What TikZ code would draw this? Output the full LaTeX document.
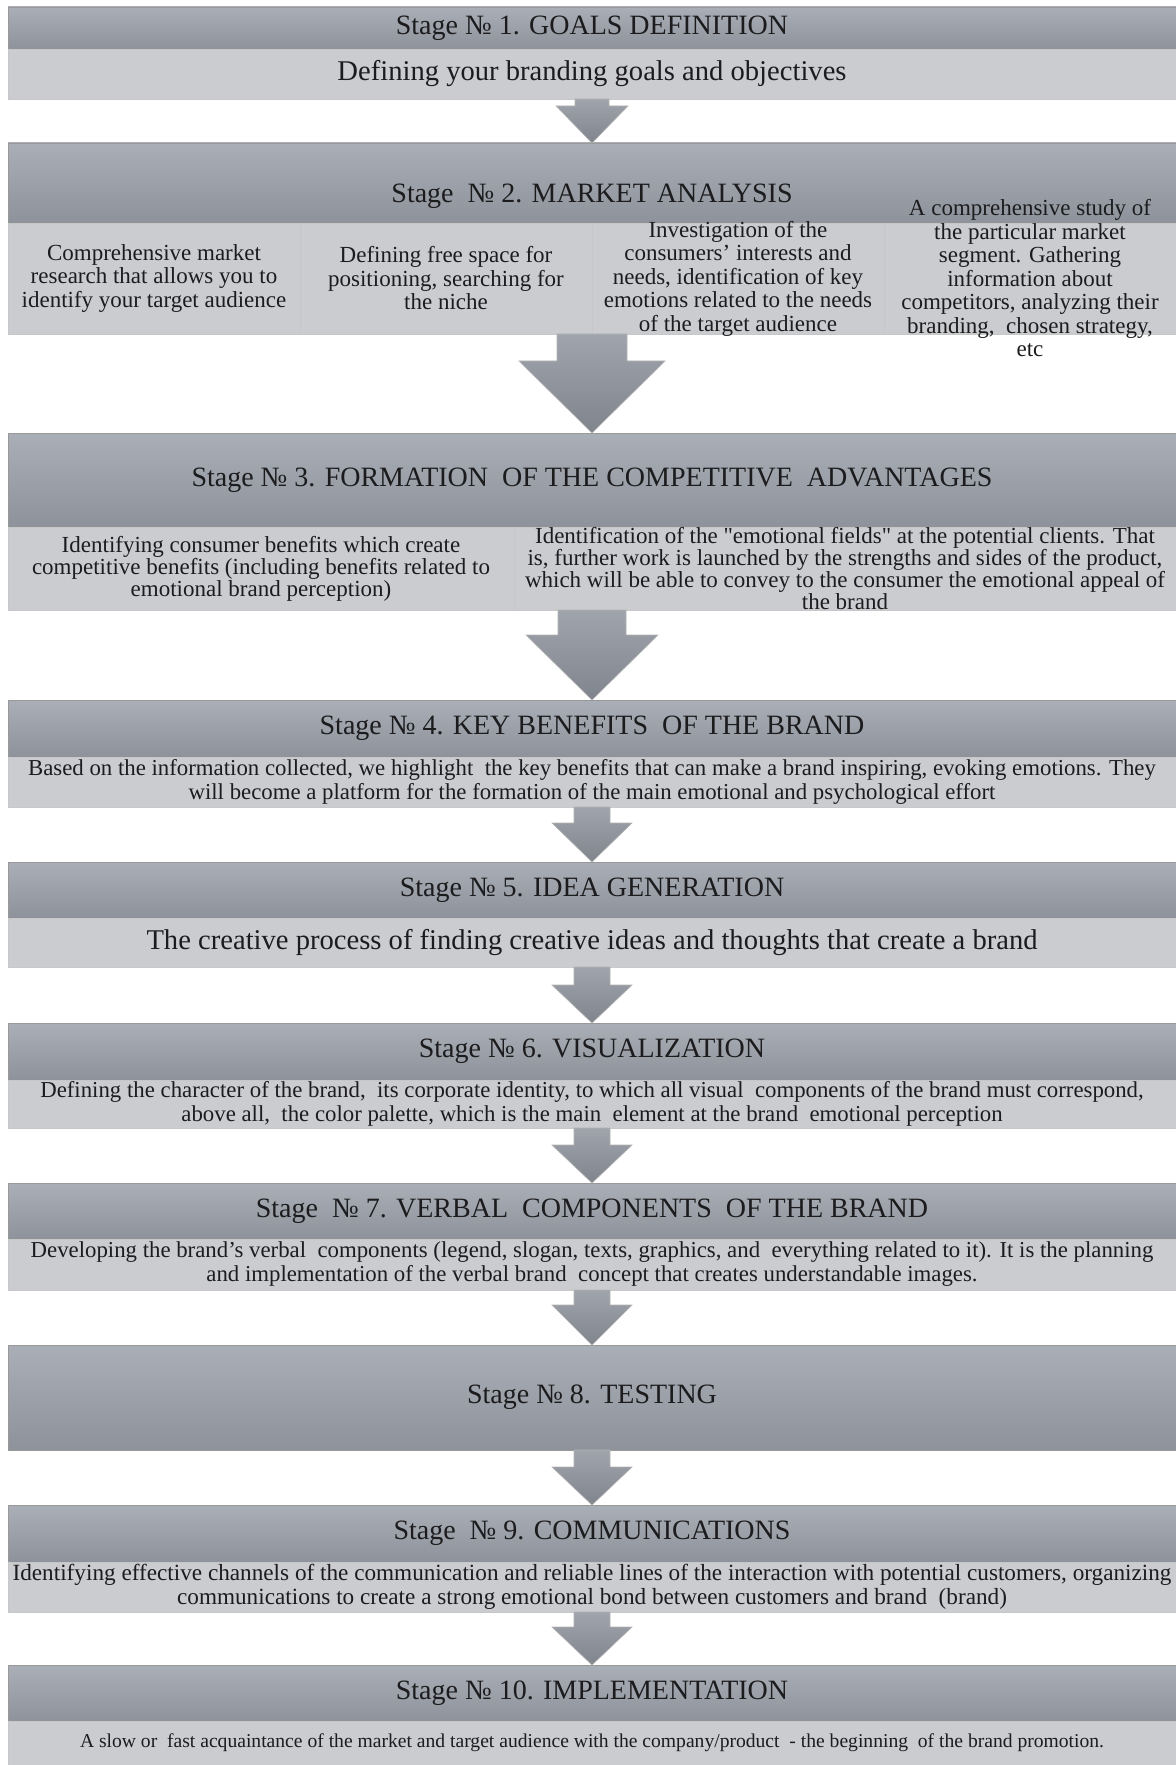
\documentclass[tikz,border=0pt]{standalone}
\usepackage{fontspec}
\setmainfont{Liberation Serif}
\usepackage{xcolor}
\usetikzlibrary{positioning,calc}

\definecolor{headtop}{RGB}{170,174,182}
\definecolor{headbot}{RGB}{142,147,155}
\definecolor{bodyfill}{RGB}{203,204,208}
\definecolor{arrowtop}{RGB}{160,165,173}
\definecolor{arrowbot}{RGB}{128,133,141}
\definecolor{ink}{RGB}{28,28,30}

\begin{document}
\begin{tikzpicture}[x=0.5pt,y=-0.5pt]
	\newcommand\wid{584pt}
	\newcommand\bigfont{\fontsize{14}{16}\selectfont}
	\newcommand\widefont{\fontsize{14.3}{16}\selectfont}
	\newcommand\cellfont{\fontsize{11.5}{11.75}\selectfont}
	\newcommand\txtfont{\fontsize{11.4}{12}\selectfont}
	\tikzset{
		stagehead/.style={rectangle, minimum width=\wid, inner sep=0pt, outer sep=0pt,
			top color=headtop, bottom color=headbot, draw=black!40, line width=0.3pt,
			text=ink, font=\bigfont},
		stagebody/.style={rectangle, minimum width=\wid, inner sep=0pt, outer sep=0pt,
			fill=bodyfill, draw=black!22, line width=0.3pt, text=ink, align=center},
		cell/.style={stagebody, minimum width=#1},
		celltext/.style={align=center, text=ink, inner sep=0pt, font=\cellfont},
		blockarrow/.style={top color=arrowtop, bottom color=arrowbot, draw=black!30, line width=0.3pt},
	}
	% #1 from, #2 to, #3 stem half width, #4 head half width, #5 head length
	\newcommand\stagearrow[5]{%
		\path[blockarrow] ($(#1.south)+(-#3,0)$) -- ($(#1.south)+(#3,0)$)
			-- ($(#2.north)+(#3,-#5)$) -- ($(#2.north)+(#4,-#5)$) -- (#2.north)
			-- ($(#2.north)+(-#4,-#5)$) -- ($(#2.north)+(-#3,-#5)$) -- cycle;
	}
	\useasboundingbox (0,0) rectangle (1176,1765);

	% stage 1
	\node[stagehead, minimum height=21pt, anchor=north west] (h1) at (8,7) {Stage № 1. GOALS DEFINITION};
	\node[stagebody, minimum height=25pt, below=0pt of h1, font=\widefont] (b1) {Defining your branding goals and objectives};

	% stage 2
	\node[stagehead, minimum height=40pt, text height=23pt, text depth=3pt, below=22pt of b1] (h2) {Stage~~№ 2. MARKET ANALYSIS};
	\node[cell=146pt, minimum height=55.5pt, below right=0pt and 0pt of h2.south west] (c1) {};
	\node[cell=146pt, minimum height=55.5pt, right=0pt of c1] (c2) {};
	\node[cell=146pt, minimum height=55.5pt, right=0pt of c2] (c3) {};
	\node[cell=146pt, minimum height=55.5pt, right=0pt of c3] (c4) {};
	\node[celltext] (t1) at (c1) {Comprehensive market\\research that allows you to\\identify your target audience};
	\node[celltext] (t2) at (c2) {Defining free space for\\positioning, searching for\\the niche};
	\node[celltext] (t3) at (c3) {Investigation of the\\consumers' interests and\\needs, identification of key\\emotions related to the needs\\of the target audience};
	\node[celltext] (t4) at (c4) {A comprehensive study of\\the particular market\\segment. Gathering\\information about\\competitors, analyzing their\\branding,~ chosen strategy,\\etc};
	\coordinate (b2) at (c2.south east);

	% stage 3
	\node[stagehead, minimum height=47pt, below=49.5pt of b2] (h3) {Stage № 3. FORMATION~ OF THE COMPETITIVE~ ADVANTAGES};
	\node[cell=253pt, minimum height=41.5pt, below right=0pt and 0pt of h3.south west] (d1) {};
	\node[cell=331pt, minimum height=41.5pt, right=0pt of d1] (d2) {};
	\node[celltext, font=\fontsize{11.5}{11}\selectfont] (s1) at (d1) {Identifying consumer benefits which create\\competitive benefits (including benefits related to\\emotional brand perception)};
	\node[celltext, font=\fontsize{11.5}{11}\selectfont] (s2) at (d2) {Identification of the \textquotedbl emotional fields\textquotedbl{} at the potential clients. That\\is, further work is launched by the strengths and sides of the product,\\which will be able to convey to the consumer the emotional appeal of\\the brand};
	\coordinate (b3) at ($(d1.south west)!0.5!(d2.south east)$);

	% stage 4
	\node[stagehead, minimum height=28.5pt, below=45pt of b3] (h4) {Stage № 4. KEY BENEFITS~ OF THE BRAND};
	\node[stagebody, minimum height=25pt, below=0pt of h4, font=\txtfont] (b4) {Based on the information collected, we highlight~ the key benefits that can make a brand inspiring, evoking emotions. They\\will become a platform for the formation of the main emotional and psychological effort};

	% stage 5
	\node[stagehead, minimum height=28pt, below=27.5pt of b4] (h5) {Stage № 5. IDEA GENERATION};
	\node[stagebody, minimum height=24.5pt, below=0pt of h5, font=\widefont] (b5) {The creative process of finding creative ideas and thoughts that create a brand};

	% stage 6
	\node[stagehead, minimum height=28.5pt, below=28pt of b5] (h6) {Stage № 6. VISUALIZATION};
	\node[stagebody, minimum height=24pt, below=0pt of h6, font=\txtfont] (b6) {Defining the character of the brand,~ its corporate identity, to which all visual~ components of the brand must correspond,\\above all,~ the color palette, which is the main~ element at the brand~ emotional perception};

	% stage 7
	\node[stagehead, minimum height=28pt, below=27.5pt of b6] (h7) {Stage~~№ 7. VERBAL~ COMPONENTS~ OF THE BRAND};
	\node[stagebody, minimum height=25.5pt, below=0pt of h7, font=\txtfont] (b7) {Developing the brand's verbal~ components (legend, slogan, texts, graphics, and~ everything related to it). It is the planning\\and implementation of the verbal brand~ concept that creates understandable images.};

	% stage 8
	\node[stagehead, minimum height=52.5pt, below=27.5pt of b7] (h8) {Stage № 8. TESTING};

	% stage 9
	\node[stagehead, minimum height=28.5pt, below=27.5pt of h8] (h9) {Stage~~№ 9. COMMUNICATIONS};
	\node[stagebody, minimum height=25pt, below=0pt of h9, font=\fontsize{11.6}{12}\selectfont] (b9) {Identifying effective channels of the communication and reliable lines of the interaction with potential customers, organizing\\communications to create a strong emotional bond between customers and brand~ (brand)};

	% stage 10
	\node[stagehead, minimum height=28pt, below=26.5pt of b9] (h10) {Stage № 10. IMPLEMENTATION};
	\node[stagebody, minimum height=22pt, below=0pt of h10, font=\fontsize{9.8}{11}\selectfont] (b10) {A slow or~ fast acquaintance of the market and target audience with the company/product~ - the beginning~ of the brand promotion.};

	% arrows between the stages
	\stagearrow{b1}{h2}{17}{36}{37}
	\stagearrow{b2}{h3}{35}{73}{72}
	\stagearrow{b3}{h4}{34}{66}{65}
	\stagearrow{b4}{h5}{18}{40}{39}
	\stagearrow{b5}{h6}{18}{40}{38}
	\stagearrow{b6}{h7}{18}{40}{38}
	\stagearrow{b7}{h8}{18}{40}{40}
	\stagearrow{h8}{h9}{18}{40}{38}
	\stagearrow{b9}{h10}{18}{40}{38}
\end{tikzpicture}
\end{document}
